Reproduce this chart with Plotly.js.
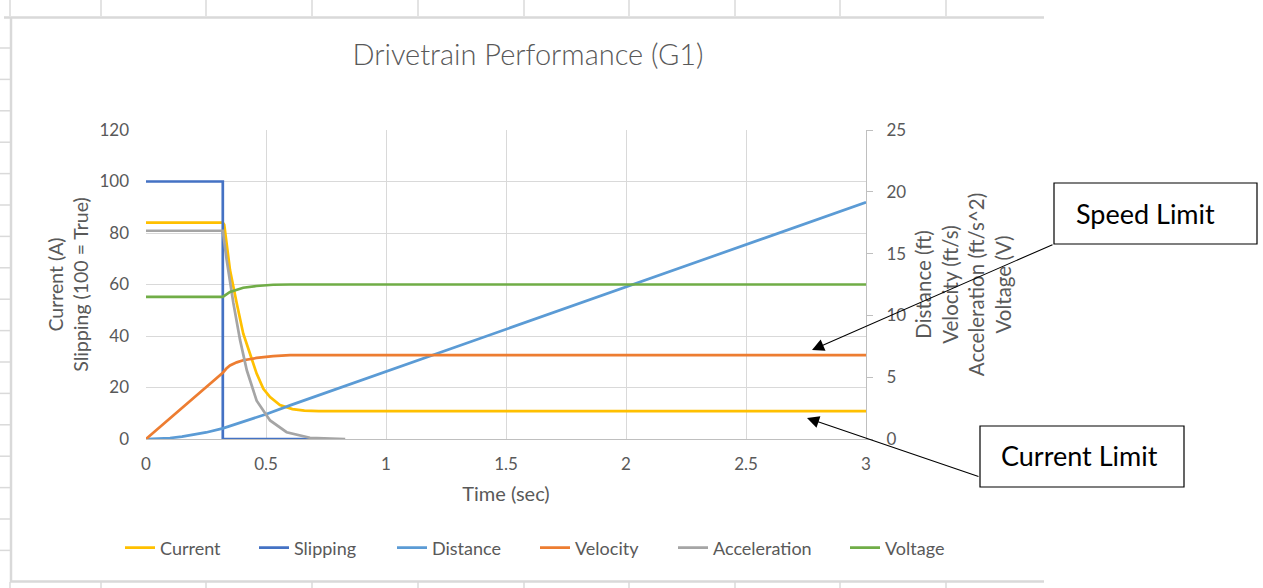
<!DOCTYPE html>
<html>
<head>
<meta charset="utf-8">
<script src="https://cdn.plot.ly/plotly-3.0.1.min.js"></script>
<style>html,body{margin:0;padding:0;background:#fff;}#chart{width:1263px;height:588px;}</style>
</head>
<body>
<div id="chart"></div>
<script>
// ---- data ----
const currentT = [0, 0.32, 0.326, 0.35, 0.378, 0.405, 0.433, 0.461, 0.489, 0.517, 0.558, 0.61, 0.66, 0.72, 3];
const currentV = [84, 84, 83.2, 65.6, 52.7, 41, 33.2, 25.4, 19.5, 16.3, 13.2, 11.6, 11.0, 10.8, 10.8];

const slippingT = [0, 0.32, 0.32, 0.72];
const slippingV = [100, 100, 0, 0];

const distanceT = [0, 0.05, 0.1, 0.15, 0.2, 0.25, 0.32, 0.4, 0.5, 0.6, 3];
const distanceV = [0, 0.02, 0.08, 0.19, 0.34, 0.53, 0.86, 1.35, 2.0, 2.72, 19.15];

const velocityT = [0, 0.142, 0.32, 0.335, 0.35, 0.378, 0.405, 0.461, 0.53, 0.6, 3];
const velocityV = [0, 2.4, 5.36, 5.7, 5.95, 6.2, 6.37, 6.56, 6.70, 6.78, 6.78];

const accelT = [0, 0.32, 0.336, 0.364, 0.392, 0.42, 0.461, 0.517, 0.586, 0.683, 0.83];
const accelV = [16.85, 16.85, 14.5, 11.0, 8.0, 5.56, 3.1, 1.5, 0.55, 0.1, 0];

const voltageT = [0, 0.32, 0.35, 0.405, 0.461, 0.53, 0.6, 3];
const voltageV = [11.5, 11.5, 11.9, 12.24, 12.38, 12.48, 12.5, 12.5];

const seriesNames = ['Current', 'Slipping', 'Distance', 'Velocity', 'Acceleration', 'Voltage'];
const seriesColors = ['#FFC000', '#4472C4', '#5B9BD5', '#ED7D31', '#A5A5A5', '#70AD47'];

const xTickVals = [0, 0.5, 1, 1.5, 2, 2.5, 3];
const xTickText = ['0', '0.5', '1', '1.5', '2', '2.5', '3'];

// ---- layout helpers (pixel -> paper) ----
const W = 1263, H = 588;
const PL = 146, PR = 866, PT = 130, PB = 439;
const px = x => (x - PL) / (PR - PL);
const py = y => (PB - y) / (PB - PT);

const FONT = 'Lato, "Open Sans", sans-serif';
const GREY = '#595959';
// legend entry widths (px) so entries are spaced like the reference
const legendWidths = [89, 93, 98, 93, 127, 65];

function tr(i, t, v, axis) {
  return {type: 'scatter', mode: 'lines', name: seriesNames[i], x: t, y: v, yaxis: axis,
          legendwidth: legendWidths[i],
          line: {color: seriesColors[i], width: 2.7}, hoverinfo: 'x+y+name'};
}

const data = [
  tr(0, currentT, currentV, 'y'),
  tr(1, slippingT, slippingV, 'y'),
  tr(2, distanceT, distanceV, 'y2'),
  tr(3, velocityT, velocityV, 'y2'),
  tr(4, accelT, accelV, 'y2'),
  tr(5, voltageT, voltageV, 'y2')
];

// spreadsheet background decoration
const shapes = [];
const colX = [10, 101, 206, 312, 418, 524, 629, 735, 840, 946];
colX.forEach(x => {
  shapes.push({type: 'line', xref: 'paper', yref: 'paper', x0: px(x), x1: px(x), y0: py(0), y1: py(16),
               line: {color: '#DADADA', width: 1.5}, layer: 'below'});
  shapes.push({type: 'line', xref: 'paper', yref: 'paper', x0: px(x), x1: px(x), y0: py(582), y1: py(588),
               line: {color: '#DADADA', width: 1.5}, layer: 'below'});
});
for (let k = 0; k <= 16; k++) {
  const y = 48 + k * 31.4;
  shapes.push({type: 'line', xref: 'paper', yref: 'paper', x0: px(0), x1: px(10), y0: py(y), y1: py(y),
               line: {color: '#DADADA', width: 1.5}, layer: 'below'});
}
// chart area border
shapes.push({type: 'line', xref: 'paper', yref: 'paper', x0: px(4), x1: px(1044), y0: py(17.5), y1: py(17.5),
             line: {color: '#D9D9D9', width: 2.5}, layer: 'below'});
shapes.push({type: 'line', xref: 'paper', yref: 'paper', x0: px(11), x1: px(11), y0: py(17), y1: py(582),
             line: {color: '#D9D9D9', width: 2.5}, layer: 'below'});
shapes.push({type: 'line', xref: 'paper', yref: 'paper', x0: px(10), x1: px(1044), y0: py(581.5), y1: py(581.5),
             line: {color: '#D9D9D9', width: 2.5}, layer: 'below'});
// callout boxes
shapes.push({type: 'rect', xref: 'paper', yref: 'paper', x0: px(1054), x1: px(1257), y0: py(244), y1: py(183),
             line: {color: '#000', width: 1.2}, fillcolor: '#fff'});
shapes.push({type: 'rect', xref: 'paper', yref: 'paper', x0: px(980), x1: px(1184), y0: py(487), y1: py(426),
             line: {color: '#000', width: 1.2}, fillcolor: '#fff'});

const annotations = [
  {xref: 'paper', yref: 'paper', x: px(812), y: py(350), text: '', showarrow: true,
   ax: 1054 - 812, ay: 244 - 350, arrowhead: 2, arrowsize: 2.2, arrowwidth: 1.1, arrowcolor: '#000', standoff: 0},
  {xref: 'paper', yref: 'paper', x: px(807), y: py(418), text: '', showarrow: true,
   ax: 980 - 807, ay: 477 - 418, arrowhead: 2, arrowsize: 2.2, arrowwidth: 1.1, arrowcolor: '#000', standoff: 0},
  {xref: 'paper', yref: 'paper', x: px(1074), y: py(213), xanchor: 'left', yanchor: 'middle',
   text: 'Speed Limit', showarrow: false, font: {family: FONT, size: 27, color: '#000'}},
  {xref: 'paper', yref: 'paper', x: px(999), y: py(456), xanchor: 'left', yanchor: 'middle',
   text: 'Current Limit', showarrow: false, font: {family: FONT, size: 27, color: '#000'}}
];

const layout = {
  width: W, height: H,
  margin: {l: PL, r: W - PR, t: PT, b: H - PB, pad: 0},
  paper_bgcolor: '#fff', plot_bgcolor: '#fff',
  font: {family: FONT, color: GREY, size: 17},
  title: {text: 'Drivetrain Performance (G1)', x: px(528), xref: 'paper', xanchor: 'center',
          y: 1 - 55 / H, yref: 'container', yanchor: 'middle',
          font: {family: FONT, size: 29, color: GREY, weight: 300}},
  showlegend: true,
  legend: {orientation: 'h', x: px(120), xanchor: 'left', y: py(548), yanchor: 'middle',
           font: {family: FONT, size: 18, color: GREY}, bgcolor: 'rgba(0,0,0,0)', entrywidthmode: 'pixels'},
  xaxis: {range: [0, 3], tickvals: xTickVals, ticktext: xTickText, showgrid: true, gridcolor: '#D9D9D9', gridwidth: 1,
          zeroline: false, showline: true, linecolor: '#BFBFBF', linewidth: 1, ticks: '',
          tickfont: {family: FONT, size: 17, color: GREY}, ticklabelstandoff: 10,
          title: {text: 'Time (sec)', font: {family: FONT, size: 20, color: GREY}, standoff: 13}},
  yaxis: {range: [0, 120], dtick: 20, showgrid: true, gridcolor: '#D9D9D9', gridwidth: 1, zeroline: false,
          showline: false, ticks: '', tickfont: {family: FONT, size: 17, color: GREY}, ticklabelstandoff: 16,
          title: {text: 'Current (A)<br>Slipping (100 = True)', font: {family: FONT, size: 19.5, color: GREY}, standoff: 5}},
  yaxis2: {range: [0, 25], dtick: 5, overlaying: 'y', side: 'right', showgrid: false, zeroline: false,
           showline: true, linecolor: '#BFBFBF', linewidth: 1, ticks: 'outside', ticklen: 6, tickcolor: '#BFBFBF',
           tickfont: {family: FONT, size: 17, color: GREY}, ticklabelstandoff: 10,
           title: {text: 'Distance (ft)<br>Velocity (ft/s)<br>Acceleration (ft/s^2)<br>Voltage (V)',
                   font: {family: FONT, size: 20.5, color: GREY}, standoff: 11}},
  shapes: shapes,
  annotations: annotations
};

Plotly.newPlot('chart', data, layout, {displayModeBar: false, staticPlot: true});
</script>
</body>
</html>
